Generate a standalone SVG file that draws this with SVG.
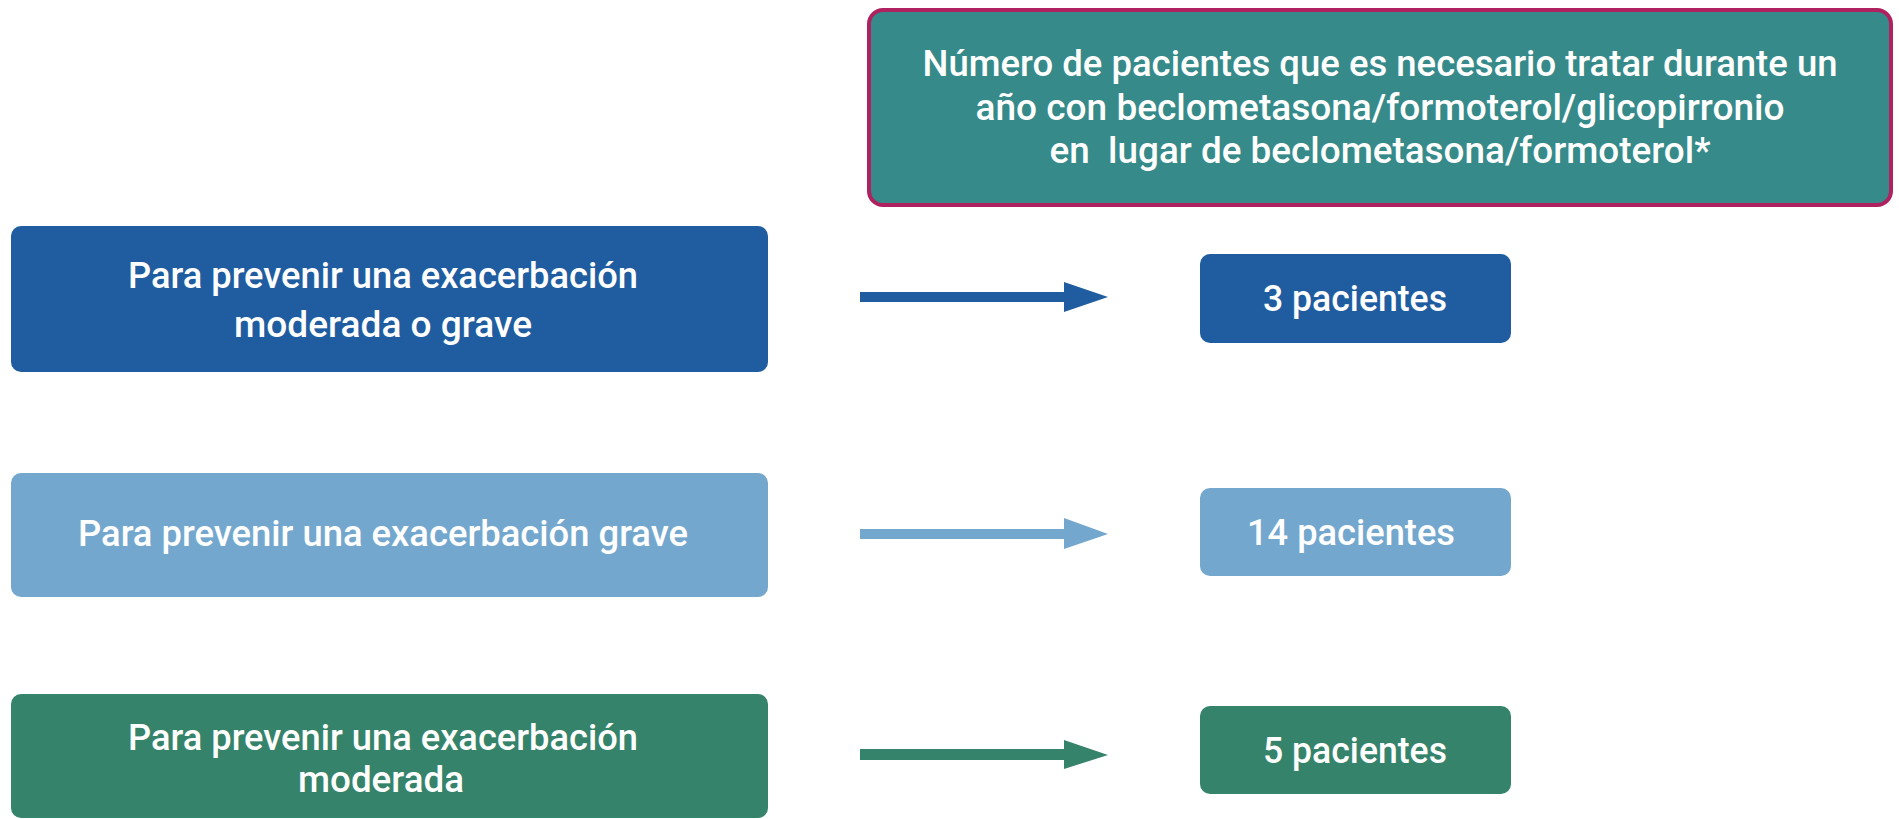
<svg xmlns="http://www.w3.org/2000/svg" width="1899" height="819" viewBox="0 0 1899 819">
<style>
.t{font-family:Roboto,"Liberation Sans","DejaVu Sans",sans-serif;font-weight:500;font-size:36px;fill:#ffffff;text-anchor:middle}
.pre{white-space:pre}
.dark{fill:#1F5DA0}.light{fill:#74A7CE}.green{fill:#35836A}
</style>
<rect width="1899" height="819" fill="#ffffff"/>
<g id="header">
<rect x="869" y="10" width="1022" height="195" rx="14" fill="#368A8A" stroke="#B0215F" stroke-width="4"/>
<text class="t" x="1380" y="76" textLength="915" lengthAdjust="spacingAndGlyphs">Número de pacientes que es necesario tratar durante un</text>
<text class="t" x="1380" y="120" textLength="809" lengthAdjust="spacingAndGlyphs">año con beclometasona/formoterol/glicopirronio</text>
<text class="t pre" x="1380" y="163" textLength="661" lengthAdjust="spacingAndGlyphs" xml:space="preserve">en  lugar de beclometasona/formoterol*</text>
</g>
<g id="n1">
<rect class="dark" x="11" y="226" width="757" height="146" rx="10"/>
<text class="t" x="383" y="288" textLength="510" lengthAdjust="spacingAndGlyphs">Para prevenir una exacerbación</text>
<text class="t" x="383" y="337" textLength="298" lengthAdjust="spacingAndGlyphs">moderada o grave</text>
</g>
<g id="r1">
<rect class="dark" x="1200" y="254" width="311" height="89" rx="10"/>
<text class="t" x="1355" y="311" textLength="184" lengthAdjust="spacingAndGlyphs">3 pacientes</text>
</g>
<g id="n2">
<rect class="light" x="11" y="473" width="757" height="124" rx="10"/>
<text class="t" x="383" y="546" textLength="610" lengthAdjust="spacingAndGlyphs">Para prevenir una exacerbación grave</text>
</g>
<g id="r2">
<rect class="light" x="1200" y="488" width="311" height="88" rx="10"/>
<text class="t" x="1351" y="545" textLength="208" lengthAdjust="spacingAndGlyphs">14 pacientes</text>
</g>
<g id="n3">
<rect class="green" x="11" y="694" width="757" height="124" rx="10"/>
<text class="t" x="383" y="750" textLength="510" lengthAdjust="spacingAndGlyphs">Para prevenir una exacerbación</text>
<text class="t" x="381" y="792" textLength="166" lengthAdjust="spacingAndGlyphs">moderada</text>
</g>
<g id="r3">
<rect class="green" x="1200" y="706" width="311" height="88" rx="10"/>
<text class="t" x="1355" y="763" textLength="184" lengthAdjust="spacingAndGlyphs">5 pacientes</text>
</g>
<g id="connectors">
<polygon class="dark" points="860,292 1064,292 1064,282 1108,297 1064,312 1064,302 860,302"/>
<polygon class="light" points="860,529 1064,529 1064,518 1108,534 1064,549 1064,539 860,539"/>
<polygon class="green" points="860,749 1064,749 1064,740 1108,755 1064,769 1064,760 860,760"/>
</g>
</svg>
